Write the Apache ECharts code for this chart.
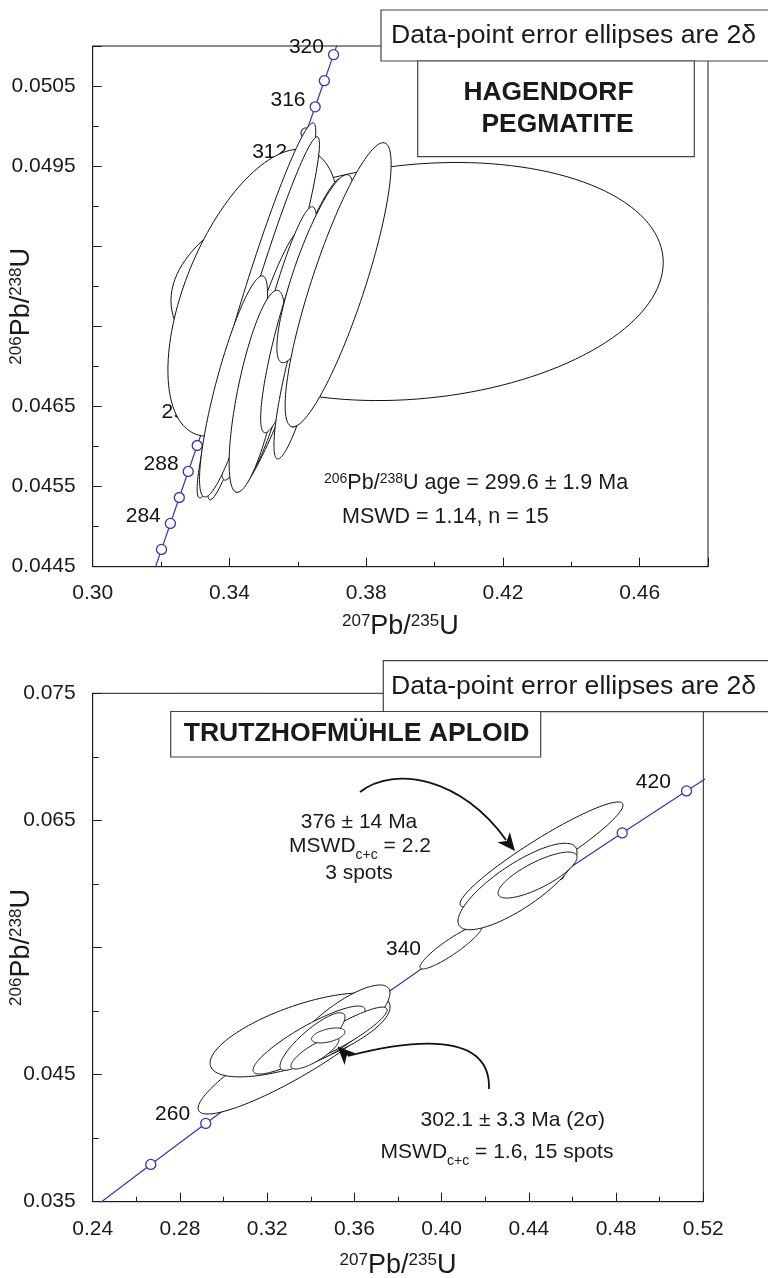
<!DOCTYPE html>
<html>
<head>
<meta charset="utf-8">
<script src="https://cdn.jsdelivr.net/npm/echarts@6/dist/echarts.min.js"></script>
<style>
  html, body { margin: 0; padding: 0; background: #fff; }
  #chart { width: 768px; height: 1278px; }
</style>
</head>
<body>
<div id="chart"></div>
<script>
const FONT = 'Liberation Sans, Arial, sans-serif'
const INK = '#1a1a1a'
const BLUE = '#3b33a8'

// ---- upper panel: Hagendorf pegmatite
// concordia points (age in Ma, 207Pb/235U, 206Pb/238U)
const hagAges = [278, 280, 282, 284, 286, 288, 290, 292, 294, 296, 298, 300, 302, 304, 306, 308, 310, 312, 314, 316, 318, 320, 322]
const hagR75 = [0.314935, 0.317529, 0.320127, 0.322729, 0.325337, 0.32795, 0.330569, 0.333192, 0.335821, 0.338456, 0.341094, 0.343739, 0.346389, 0.34904, 0.351701, 0.354367, 0.357038, 0.359712, 0.362394, 0.365081, 0.367772, 0.370469, 0.373173]
const hagR68 = [0.044068, 0.044392, 0.044716, 0.04504, 0.045364, 0.045689, 0.046013, 0.046338, 0.046663, 0.046987, 0.047312, 0.047637, 0.047962, 0.048287, 0.048613, 0.048938, 0.049264, 0.049589, 0.049915, 0.050241, 0.050567, 0.050892, 0.051218]
const hagLabelAges = [284, 288, 292, 296, 300, 304, 308, 312, 316, 320]
// error ellipses (2 sigma), in drawing order
const hagX = [0.3949, 0.347, 0.3479, 0.35, 0.3574, 0.3497, 0.3544, 0.3412, 0.3481, 0.3585, 0.3618, 0.365, 0.3677, 0.3696, 0.3718]
const hagY = [0.04806, 0.04792, 0.0477, 0.0476, 0.04739, 0.04714, 0.04729, 0.04675, 0.04669, 0.04747, 0.04715, 0.04822, 0.04741, 0.04762, 0.04802]
const hagErrX = [0.072, 0.025, 0.01735, 0.01633, 0.01638, 0.012, 0.01112, 0.00995, 0.00819, 0.00936, 0.00878, 0.01112, 0.01053, 0.01287, 0.01551]
const hagErrY = [0.001486, 0.001792, 0.002341, 0.002266, 0.00196, 0.00156, 0.001704, 0.00138, 0.001261, 0.001298, 0.001305, 0.001174, 0.001167, 0.001336, 0.001773]
const hagRho = [0.16, 0.54, 0.953, 0.958, 0.929, 0.915, 0.882, 0.84, 0.71, 0.86, 0.87, 0.84, 0.86, 0.898, 0.85]
const hagYLabels = ['0.0445', '0.0455', '0.0465', '0.0495', '0.0505']

// ---- lower panel: Trutzhofmuehle aploid
const truAges = [220, 240, 260, 280, 300, 320, 340, 360, 380, 400, 420, 440]
const truR75 = [0.24193, 0.266635, 0.291831, 0.317529, 0.343739, 0.370469, 0.397729, 0.425533, 0.453891, 0.482812, 0.512309, 0.542393]
const truR68 = [0.034717, 0.037932, 0.041157, 0.044392, 0.047637, 0.050892, 0.054158, 0.057434, 0.060719, 0.064015, 0.067321, 0.070637]
const truLabelAges = [260, 300, 340, 380, 420]
const truX = [0.3319, 0.3351, 0.3534, 0.3392, 0.3539, 0.3408, 0.3419, 0.348, 0.4043, 0.4458, 0.4348, 0.444]
const truY = [0.04646, 0.04812, 0.0489, 0.04772, 0.04812, 0.0476, 0.0467, 0.04808, 0.05504, 0.06232, 0.0598, 0.0607]
const truErrX = [0.04356, 0.04127, 0.02293, 0.02568, 0.0211, 0.0149, 0.011, 0.00766, 0.01422, 0.03737, 0.02729, 0.01811]
const truErrY = [0.004563, 0.0033, 0.00315, 0.002675, 0.00219, 0.002266, 0.00126, 0.00059, 0.00173, 0.00413, 0.0034, 0.00181]
const truRho = [0.9, 0.67, 0.8, 0.88, 0.9, 0.85, 0.81, 0.47, 0.91, 0.94, 0.8, 0.78]
const truYLabels = ['0.035', '0.045', '0.065', '0.075']

const zip = (...cols) => cols[0].map((_, i) => cols.map((c) => c[i]))

// ellipse outline from centre, 2s errors and error correlation
const ellipseItem = (params, api) => {
	const cx = api.value(0)
	const cy = api.value(1)
	const sx = api.value(2)
	const sy = api.value(3)
	const r = api.value(4)
	const q = Math.sqrt(1 - r * r)
	const pts = []
	for (let i = 0; i < 144; i++) {
		const t = (i / 144) * Math.PI * 2
		pts.push(api.coord([cx + sx * Math.cos(t), cy + sy * (r * Math.cos(t) + q * Math.sin(t))]))
	}
	return {
		type: 'polygon',
		shape: { points: pts },
		style: { fill: '#fff', stroke: '#111', lineWidth: 1 }
	}
}

const supRich = {
	sup: { fontSize: 17, fontFamily: FONT, color: INK, verticalAlign: 'top' }
}
const axisName = '{sup|207}Pb/{sup|235}U'
const axisNameY = '{sup|206}Pb/{sup|238}U'
const nameStyle = { fontSize: 27, fontFamily: FONT, color: INK, rich: supRich }

const labelStyle = { fontSize: 21, fontFamily: FONT, color: INK }

const valueAxis = (extra) =>
	Object.assign(
		{
			type: 'value',
			scale: true,
			nameMoveOverlap: false,
			splitLine: { show: false },
			axisLine: { show: true, onZero: false, lineStyle: { color: INK, width: 1 } },
			axisTick: { show: true, inside: true, length: 9, lineStyle: { color: INK } }
		},
		extra
	)

const concordia = (xi, ages, r75, r68, labelAges, dist, off) => [
	{
		type: 'line',
		xAxisIndex: xi,
		yAxisIndex: xi,
		data: zip(r75, r68),
		showSymbol: false,
		clip: true,
		z: 2,
		lineStyle: { color: BLUE, width: 1.2 }
	},
	{
		type: 'scatter',
		xAxisIndex: xi,
		yAxisIndex: xi,
		data: zip(r75, r68, ages),
		symbol: 'circle',
		symbolSize: 10,
		clip: true,
		z: 2,
		itemStyle: { color: '#fff', borderColor: BLUE, borderWidth: 1.3, opacity: 1 },
		label: {
			show: true,
			position: 'left',
			distance: dist,
			offset: off,
			fontSize: 21,
			fontFamily: FONT,
			color: '#111',
			formatter: (p) => (labelAges.includes(p.value[2]) ? String(p.value[2]) : '')
		}
	}
]

const ellipses = (xi, cols) => ({
	type: 'custom',
	xAxisIndex: xi,
	yAxisIndex: xi,
	clip: true,
	z: 3,
	renderItem: ellipseItem,
	encode: { x: 0, y: 1 },
	data: zip(...cols)
})

const chart = echarts.init(document.getElementById('chart'))

const option = {
	animation: false,
	backgroundColor: '#fff',
	grid: [
		{ left: 92.7, top: 46, width: 615.3, height: 520.7, show: true, borderColor: INK, borderWidth: 1, outerBoundsMode: 'none', containLabel: false },
		{ left: 92.7, top: 693.3, width: 610.6, height: 508.4, show: true, borderColor: INK, borderWidth: 1, outerBoundsMode: 'none', containLabel: false }
	],
	xAxis: [
		valueAxis({
			gridIndex: 0,
			position: 'bottom',
			min: 0.3,
			max: 0.48,
			interval: 0.04,
			axisLabel: Object.assign({ margin: 16, formatter: (v) => (v > 0.475 ? '' : v.toFixed(2)) }, labelStyle),
			name: axisName,
			nameLocation: 'middle',
			nameGap: 46,
			nameTextStyle: nameStyle
		}),
		valueAxis({
			gridIndex: 0,
			position: 'bottom',
			min: 0.3,
			max: 0.48,
			interval: 0.02,
			axisLine: { show: false },
			axisTick: { show: true, inside: true, length: 5, lineStyle: { color: INK } },
			axisLabel: { show: false }
		}),
		valueAxis({
			gridIndex: 1,
			position: 'bottom',
			min: 0.24,
			max: 0.52,
			interval: 0.04,
			minorTick: { show: true, splitNumber: 2, length: 5, lineStyle: { color: INK } },
			axisLabel: Object.assign({ margin: 17, formatter: (v) => v.toFixed(2) }, labelStyle),
			name: axisName,
			nameLocation: 'middle',
			nameGap: 50,
			nameTextStyle: nameStyle
		})
	],
	yAxis: [
		valueAxis({
			gridIndex: 0,
			position: 'left',
			min: 0.0445,
			max: 0.051,
			interval: 0.001,
			axisLabel: Object.assign(
				{ margin: 17, formatter: (v) => (hagYLabels.includes(v.toFixed(4)) ? v.toFixed(4) : '') },
				labelStyle
			),
			name: axisNameY,
			nameLocation: 'middle',
			nameRotate: 90,
			nameGap: 58,
			nameTextStyle: nameStyle
		}),
		valueAxis({
			gridIndex: 0,
			position: 'left',
			min: 0.0445,
			max: 0.051,
			interval: 0.0005,
			axisLine: { show: false },
			axisTick: { show: true, inside: true, length: 6, lineStyle: { color: INK } },
			axisLabel: { show: false }
		}),
		valueAxis({
			gridIndex: 1,
			position: 'left',
			min: 0.035,
			max: 0.075,
			interval: 0.01,
			minorTick: { show: true, splitNumber: 2, length: 6, lineStyle: { color: INK } },
			axisLabel: Object.assign(
				{ margin: 17, formatter: (v) => (truYLabels.includes(v.toFixed(3)) ? v.toFixed(3) : '') },
				labelStyle
			),
			name: axisNameY,
			nameLocation: 'middle',
			nameRotate: 90,
			nameGap: 58,
			nameTextStyle: nameStyle
		})
	],
	series: [
		...concordia(0, hagAges, hagR75, hagR68, hagLabelAges, 4, [0, -7]),
		ellipses(0, [hagX, hagY, hagErrX, hagErrY, hagRho]),
		...concordia(2, truAges, truR75, truR68, truLabelAges, 10, [0, -9]),
		ellipses(2, [truX, truY, truErrX, truErrY, truRho])
	]
}

const txt = (x, y, text, size, extra) => ({
	type: 'text',
	z: 20,
	style: Object.assign(
		{ x, y, text, fontSize: size, fontFamily: FONT, fill: INK, verticalAlign: 'middle', align: 'left' },
		extra || {}
	)
})
const box = (x, y, w, h) => ({
	type: 'rect',
	z: 19,
	shape: { x, y, width: w, height: h },
	style: { fill: '#fff', stroke: '#444', lineWidth: 1.2 }
})
const arrowHead = (tip, dir, len, half) => {
	const n = Math.hypot(dir[0], dir[1])
	const u = [dir[0] / n, dir[1] / n]
	const p = [-u[1], u[0]]
	const b = [tip[0] - len * u[0], tip[1] - len * u[1]]
	return {
		type: 'polygon',
		z: 20,
		shape: {
			points: [
				tip,
				[b[0] + half * p[0], b[1] + half * p[1]],
				[tip[0] - (len - 5) * u[0], tip[1] - (len - 5) * u[1]],
				[b[0] - half * p[0], b[1] - half * p[1]]
			]
		},
		style: { fill: '#111' }
	}
}

const richSmall = {
	sup: { fontSize: 14, fontFamily: FONT, fill: INK, verticalAlign: 'top' },
	n: { fontSize: 21, fontFamily: FONT, fill: INK, verticalAlign: 'bottom', padding: [0, 0, 5, 0] },
	sub: { fontSize: 14, fontFamily: FONT, fill: INK, verticalAlign: 'bottom' }
}

option.graphic = [
	// upper panel
	box(381, 10, 420, 51),
	txt(391, 36, 'Data-point error ellipses are 2δ', 26.6),
	box(417.7, 61, 276.6, 95.7),
	txt(633.5, 93, 'HAGENDORF', 26.4, { fontWeight: 'bold', align: 'right' }),
	txt(633.5, 124.5, 'PEGMATITE', 26.4, { fontWeight: 'bold', align: 'right' }),
	txt(324, 483, '{sup|206}Pb/{sup|238}U age = 299.6 ± 1.9 Ma', 21.5, { rich: richSmall }),
	txt(342, 517, 'MSWD = 1.14, n = 15', 21.5),
	// lower panel
	box(383.3, 660.7, 420, 51),
	txt(391, 687, 'Data-point error ellipses are 2δ', 26.6),
	box(170.7, 711.5, 370, 45.5),
	txt(356.5, 734, 'TRUTZHOFMÜHLE APLOID', 26.6, { fontWeight: 'bold', align: 'center' }),
	txt(359, 822, '376 ± 14 Ma', 21, { align: 'center' }),
	txt(360, 849, '{n|MSWD}{sub|c+c}{n| = 2.2}', 21, { align: 'center', rich: richSmall }),
	txt(359, 873, '3 spots', 21, { align: 'center' }),
	txt(512.7, 1120, '302.1 ± 3.3 Ma (2σ)', 21, { align: 'center' }),
	txt(497, 1155, '{n|MSWD}{sub|c+c}{n| = 1.6, 15 spots}', 21, { align: 'center', rich: richSmall }),
	{
		type: 'bezierCurve',
		z: 20,
		shape: { x1: 360, y1: 792, cpx1: 395, cpy1: 765, cpx2: 462, cpy2: 778, x2: 506, y2: 840 },
		style: { stroke: '#111', lineWidth: 1.8, fill: null }
	},
	arrowHead([515, 851], [9, 11], 18, 8),
	{
		type: 'bezierCurve',
		z: 20,
		shape: { x1: 489, y1: 1089, cpx1: 491, cpy1: 1030, cpx2: 410, cpy2: 1040, x2: 348, y2: 1056 },
		style: { stroke: '#111', lineWidth: 1.8, fill: null }
	},
	arrowHead([337.5, 1046.5], [-1, -1], 18, 8)
]

chart.setOption(option)
</script>
</body>
</html>
